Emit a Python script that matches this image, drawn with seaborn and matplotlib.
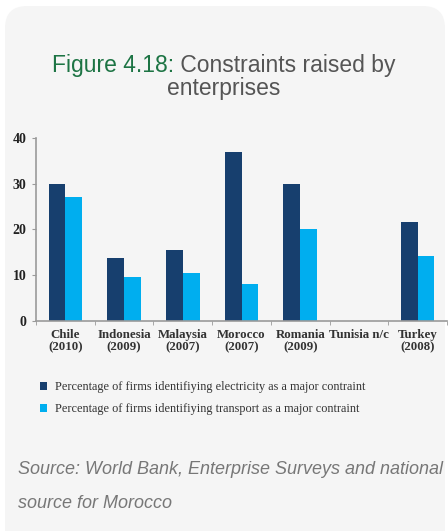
import numpy as np
import pandas as pd
import matplotlib
matplotlib.use("Agg")
import matplotlib.pyplot as plt
import seaborn as sns
from matplotlib.patches import FancyBboxPatch, Patch

# --- data ---
countries = ["Chile\n(2010)", "Indonesia\n(2009)", "Malaysia\n(2007)", "Morocco\n(2007)",
             "Romania\n(2009)", "Tunisia n/c", "Turkey\n(2008)"]
electricity = [30.0, 13.7, 15.4, 36.8, 29.8, np.nan, 21.6]
transport = [27.0, 9.6, 10.5, 8.1, 20.0, np.nan, 14.2]
series_names = ["Percentage of firms identifiying electricity as a major contraint",
                "Percentage of firms identifiying transport as a major contraint"]
colors = ["#173f6e", "#00aeef"]
source_lines = ["Source: World Bank, Enterprise Surveys and national", "source for Morocco"]

df = pd.DataFrame({
    "country": countries * 2,
    "value": electricity + transport,
    "series": [series_names[0]] * len(countries) + [series_names[1]] * len(countries),
})

W, H = 448, 531
sns.set_style("white")
fig = plt.figure(figsize=(W / 100, H / 100), dpi=100)
fig.patch.set_facecolor("white")

# background card
bg = fig.add_axes([0, 0, 1, 1], zorder=0)
bg.set_xlim(0, W)
bg.set_ylim(H, 0)
bg.axis("off")
bg.add_patch(FancyBboxPatch((5, 6), 440, 560, boxstyle="round,pad=0,rounding_size=22",
                            facecolor="#f5f5f5", edgecolor="none"))

# --- bar chart ---
ax = fig.add_axes([36 / W, 1 - 321 / H, (447 - 36) / W, (321 - 137.7) / H], zorder=1)
ax.patch.set_alpha(0)
sns.barplot(data=df, x="country", y="value", hue="series", order=countries,
            hue_order=series_names, palette=colors, width=0.57, gap=0,
            saturation=1, linewidth=0, edgecolor="none", ax=ax, legend=False)

ax.set_ylim(0, 40)
ax.set_yticks([0, 10, 20, 30, 40])
ax.set_xlim(-0.5, len(countries) - 0.5)
ax.set_xlabel("")
ax.set_ylabel("")
for s in ["top", "right"]:
    ax.spines[s].set_visible(False)
for s in ["left", "bottom"]:
    ax.spines[s].set_color("#9a9a9a")
    ax.spines[s].set_linewidth(1.2)

ax.tick_params(axis="y", length=3, color="#9a9a9a", pad=4, direction="out", left=True)
ax.tick_params(axis="x", which="major", length=0, pad=6)
ax.set_xticks(np.arange(-0.5, len(countries)), minor=True)
ax.tick_params(axis="x", which="minor", length=3, color="#9a9a9a", direction="out", bottom=True)

for lab in ax.get_yticklabels():
    lab.set_fontfamily("Liberation Serif")
    lab.set_fontweight("bold")
    lab.set_fontsize(10)
    lab.set_color("#222222")
for lab in ax.get_xticklabels():
    lab.set_fontfamily("Liberation Serif")
    lab.set_fontweight("bold")
    lab.set_fontsize(9.3)
    lab.set_color("#333333")
    lab.set_linespacing(1.0)
    lab.set_verticalalignment("top")

# legend
handles = [Patch(facecolor=c, edgecolor="none") for c in colors]
fig.legend(handles, series_names, loc="upper left", bbox_to_anchor=(29 / W, 1 - 370 / H),
           frameon=False, handlelength=0.6, handleheight=0.6, handletextpad=0.6,
           labelspacing=0.85, prop={"family": "Liberation Serif", "size": 8.8},
           labelcolor="#333333")

# title with two colours on the first line
fig.canvas.draw()
r = fig.canvas.get_renderer()
t1 = "Figure 4.18:"
t2 = " Constraints raised by"
tsize = 16.5
probe = fig.text(0.5, 1 - 72 / H, t1 + t2, fontsize=tsize, family="Liberation Sans",
                 ha="center", va="baseline")
bb = probe.get_window_extent(renderer=r)
probe.remove()
x0 = bb.x0 / W
a = fig.text(x0, 1 - 72 / H, t1, fontsize=tsize, family="Liberation Sans",
             color="#1d7444", ha="left", va="baseline")
bb1 = a.get_window_extent(renderer=r)
fig.text(bb1.x1 / W, 1 - 72 / H, t2, fontsize=tsize, family="Liberation Sans",
         color="#555555", ha="left", va="baseline")
fig.text(0.5, 1 - 95 / H, "enterprises", fontsize=tsize, family="Liberation Sans",
         color="#555555", ha="center", va="baseline")

# source note
for i, line in enumerate(source_lines):
    fig.text(18 / W, 1 - (470 + 33 * i) / H, line,
             fontsize=13, family="Liberation Sans", style="italic", color="#777777",
             ha="left", va="center")

fig.savefig("out.png", dpi=100)
